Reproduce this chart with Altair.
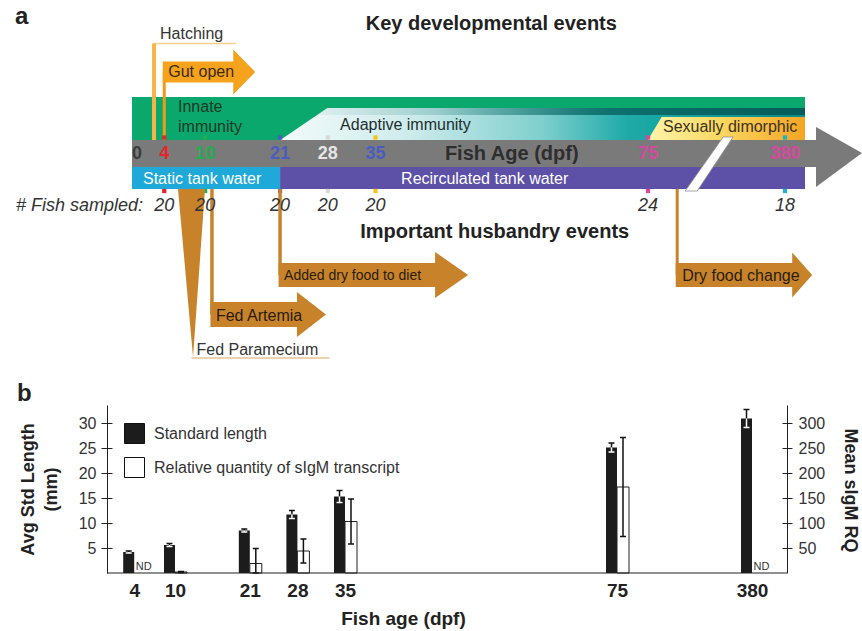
import altair as alt
import pandas as pd

FONT = "Liberation Sans"

# ---------------- panel a: timeline of development and husbandry ----------------
tick_ages = [0, 4, 10, 21, 28, 35, 75, 380]
tick_labels = ["0", "4", "10", "21", "28", "35", "75", "380"]
tick_colors = ["#3c3c3c", "#e3262c", "#22ad4e", "#4b5cc0", "#e6e6e6", "#4b5cc0", "#d6489b", "#d6489b"]

sample_ages = [4, 10, 21, 28, 35, 75, 380]
fish_sampled = ["20", "20", "20", "20", "20", "24", "18"]
sample_colors = ["#e3262c", "#22ad4e", "#4b5cc0", "#d8d8d8", "#f3c419", "#d6489b", "#1db2c6"]

hatching_age = 2.5
gut_open_age = 4
adaptive_start_age = 21
dimorphic_start_age = 75
last_age = 380
axis_break_age = 200

water_phases = ["Static tank water", "Recirculated tank water"]
water_from = [0, 21]
water_to = [21, 380]
water_colors = ["#1fa9d9", "#5c50a7"]

husbandry_events = ["Fed  Paramecium", "Fed  Artemia", "Added dry food to diet", "Dry food change"]
husbandry_ages = [8, 11, 21, 140]

# ---------------- panel b: growth and sIgM expression ----------------
ages = [4, 10, 21, 28, 35, 75, 380]
std_length = [4.2, 5.6, 8.5, 11.7, 15.3, 25.1, 30.9]
std_length_sd = [0.2, 0.3, 0.3, 0.8, 1.2, 0.9, 1.8]
sigm_rq = [None, 2, 19, 44, 103, 172, None]
sigm_rq_sd = [None, 1, 30, 24, 45, 99, None]
nd_ages = [4, 380]
SERIES_LEN = "Standard length"
SERIES_RQ = "Relative quantity of sIgM transcript"

# ---------------- layout (pixel rows of the schematic) ----------------
row = dict(
    dev_title=24, hatch_label=34, hatch_flag=43.5, gut_open=72,
    band_top=97, adaptive_top=108, stripe_bottom=115, dimorphic_top=117,
    axis_top=140, axis_mid=154, axis_bottom=167, water_mid=179, water_bottom=189,
    marker_top=137.5, marker_bottom=191, sampled=205.5, hus_title=232,
    dry_food=275, artemia=314.5, paramecium=350, paramecium_line=358,
)

XA = alt.Scale(domain=[0, 75, 380], range=[137, 648, 785], nice=False, zero=False)
YA = alt.Scale(domain=[0, 631], range=[0, 631], nice=False, zero=False)
XB = alt.Scale(domain=[0, 75, 380], range=[107, 617, 752], nice=False, zero=False)
YL = alt.Scale(domain=[0, 33.6], range=[573, 405], nice=False, zero=False)
YR = alt.Scale(domain=[0, 336], range=[573, 405], nice=False, zero=False)


def ax(field, scale=XA, axis=None):
    return alt.X(field, type="quantitative", scale=scale, axis=axis)


def ay(field, scale=YA, axis=None):
    return alt.Y(field, type="quantitative", scale=scale, axis=axis)


def rect(a0, a1, y0, y1, fill, pad_left=0, pad_right=0, **mark):
    df = pd.DataFrame({"a0": [a0], "a1": [a1], "y0": [y0], "y1": [y1]})
    return alt.Chart(df).mark_rect(fill=fill, xOffset=-pad_left, x2Offset=pad_right, **mark).encode(
        x=ax("a0"), x2=alt.X2("a1"), y=ay("y0"), y2=alt.Y2("y1"))


def glyph(age, y, path, color, **mark):
    df = pd.DataFrame({"a": [age], "y": [y]})
    style = dict(filled=True, color=color, opacity=1, strokeWidth=0)
    style.update(mark)
    return alt.Chart(df).mark_point(shape=path, size=4, **style).encode(x=ax("a"), y=ay("y"))


def vrule(age, y0, y1, color, width):
    df = pd.DataFrame({"a": [age], "y0": [y0], "y1": [y1]})
    return alt.Chart(df).mark_rule(color=color, strokeWidth=width).encode(
        x=ax("a"), y=ay("y0"), y2=alt.Y2("y1"))


def hrule(age, y, length, color, width):
    df = pd.DataFrame({"a": [age], "y": [y]})
    return alt.Chart(df).mark_rule(color=color, strokeWidth=width, x2Offset=length).encode(
        x=ax("a"), x2=alt.X2("a"), y=ay("y"))


def note(age, y, text, dx=0, align="left", size=16, color="#2a2a2a", **style):
    df = pd.DataFrame({"a": [age], "y": [y], "t": [text]})
    return alt.Chart(df).mark_text(align=align, baseline="middle", dx=dx, fontSize=size,
                                   color=color, **style).encode(x=ax("a"), y=ay("y"), text="t:N")


def arrow_path(body, head, half_body, half_head):
    return (f"M -1.5 {-half_body} L {body} {-half_body} L {body} {-half_head} L {head} 0 "
            f"L {body} {half_head} L {body} {half_body} L -1.5 {half_body} Z")


def grad(stops):
    return alt.LinearGradient(gradient="linear", x1=0, x2=1, y1=0, y2=0,
                              stops=[alt.GradientStop(offset=o, color=c) for o, c in stops])


GREEN = "#0aa86c"
TEAL = "#17a7a4"
BROWN = "#c8832a"
layers = []

# immunity bands
layers.append(rect(0, last_age, row["band_top"], row["axis_top"], GREEN, pad_left=5, pad_right=20))
layers.append(rect(adaptive_start_age, last_age, row["adaptive_top"], row["axis_top"],
                   grad([(0, "#f3fbfb"), (0.25, "#cdebeb"), (0.5, "#7fcfcd"), (0.66, "#1faaa8"), (1, "#0a8c89")]),
                   pad_right=20))
layers.append(rect(adaptive_start_age, last_age, row["adaptive_top"], row["stripe_bottom"],
                   grad([(0, "rgba(8,104,102,0)"), (0.3, "rgba(8,104,102,0.2)"), (0.6, "rgba(8,100,98,0.8)"),
                         (1, "#065c5a")]), pad_right=20))
layers.append(glyph(adaptive_start_age, row["adaptive_top"], "M -0.5 -0.5 L 48 -0.5 L -0.5 32.5 Z", GREEN))
layers.append(rect(dimorphic_start_age, last_age, row["dimorphic_top"], row["axis_top"],
                   grad([(0, "#fff4aa"), (0.45, "#fbd862"), (1, "#f4a424")]), pad_right=20))
layers.append(glyph(dimorphic_start_age, row["dimorphic_top"], "M -0.5 -0.5 L 14 -0.5 L -0.5 23.5 Z", TEAL))
layers.append(note(0, 107, "Innate", dx=41, color="#173a27"))
layers.append(note(0, 127, "immunity", dx=41, color="#173a27"))
layers.append(note(adaptive_start_age, 125, "Adaptive immunity", dx=60, color="#1e2e2e"))
layers.append(note(dimorphic_start_age, 127, "Sexually dimorphic", dx=15, color="#3a3320"))

# hatching and gut opening
layers.append(hrule(hatching_age, row["hatch_flag"], 82, "#fbd08a", 1.5))
layers.append(vrule(hatching_age, row["hatch_flag"], row["axis_top"], "#f8b448", 4))
layers.append(note(hatching_age, row["hatch_label"], "Hatching", dx=6, color="#333333"))
layers.append(vrule(gut_open_age, row["gut_open"], row["axis_top"], "#f29a16", 3))
layers.append(glyph(gut_open_age, row["gut_open"], arrow_path(69, 91, 10.5, 22.5), "#f5a21d"))
layers.append(note(gut_open_age, row["gut_open"], "Gut open", dx=4, color="#3a2a10"))

# fish-age axis arrow
layers.append(rect(0, last_age, row["axis_top"], row["axis_bottom"], "#7a7a7a", pad_left=5, pad_right=32))
layers.append(glyph(last_age, row["axis_mid"], "M 31 -27 L 77 -1 L 31 33 Z", "#7a7a7a"))

# tank water phases
water_pads = [(5, 0), (0, 20)]
for i in range(len(water_phases)):
    layers.append(rect(water_from[i], water_to[i], row["axis_bottom"], row["water_bottom"], water_colors[i],
                       pad_left=water_pads[i][0], pad_right=water_pads[i][1]))
layers.append(note(water_from[0], row["water_mid"], water_phases[0], dx=6, color="#ffffff"))
layers.append(note(water_from[1], row["water_mid"], water_phases[1], dx=121, color="#ffffff"))

# axis break between 75 and 380 dpf
layers.append(glyph(axis_break_age, 164, "M 19 -27 L 29 -27 L -7 27 L -19 27 Z", "#ffffff",
                    stroke="#8c8c8c", strokeWidth=0.8))

# tick labels and sampling markers
ticks = pd.DataFrame({"a": tick_ages, "t": tick_labels, "c": tick_colors, "y": row["axis_mid"]})
layers.append(alt.Chart(ticks).mark_text(fontSize=18, fontWeight="bold", baseline="middle").encode(
    x=ax("a"), y=ay("y"), text="t:N", color=alt.Color("c:N", scale=None)))
layers.append(note(55, row["axis_mid"], "Fish Age (dpf)", align="center", size=20, color="#2e2e2e",
                   fontWeight="bold"))
samples = pd.DataFrame({"a": sample_ages, "n": fish_sampled, "c": sample_colors,
                        "top": row["marker_top"], "bottom": row["marker_bottom"], "y": row["sampled"]})
for yc in ["top", "bottom"]:
    layers.append(alt.Chart(samples).mark_square(size=18, opacity=1).encode(
        x=ax("a"), y=ay(yc), color=alt.Color("c:N", scale=None)))

# section titles
layers.append(note(52, row["dev_title"], "Key developmental events", align="center", size=20,
                   color="#222222", fontWeight="bold"))
layers.append(note(52.5, row["hus_title"], "Important husbandry events", align="center", size=20,
                   color="#222222", fontWeight="bold"))

# husbandry events
p_age, a_age, d_age, c_age = husbandry_ages
layers.append(glyph(p_age, row["water_bottom"], "M -13.5 0 L 13.5 0 L 1.5 168 Z", BROWN))
layers.append(hrule(p_age, row["paramecium_line"], 138, "#dba566", 1.2))
layers.append(note(p_age, row["paramecium"], husbandry_events[0], dx=5, color="#333333"))
layers.append(vrule(a_age, row["water_bottom"], row["artemia"], BROWN, 3.5))
layers.append(glyph(a_age, row["artemia"], arrow_path(85, 114, 12.5, 22.5), BROWN))
layers.append(note(a_age, 316, husbandry_events[1], dx=4, color="#2a1c0c"))
layers.append(vrule(d_age, row["water_bottom"], row["dry_food"], BROWN, 3.5))
layers.append(glyph(d_age, row["dry_food"], arrow_path(155, 188, 12, 23), BROWN))
layers.append(note(d_age, 276, husbandry_events[2], dx=4, size=14, color="#2a1c0c"))
layers.append(vrule(c_age, row["water_bottom"], row["dry_food"], BROWN, 3))
layers.append(glyph(c_age, row["dry_food"], arrow_path(115, 135, 12, 22.5), BROWN))
layers.append(note(c_age, 276, husbandry_events[3], dx=5, color="#2a1c0c"))

# number of fish sampled at each age
layers.append(alt.Chart(samples).mark_text(fontSize=18, fontStyle="italic", color="#333333",
                                           baseline="middle").encode(x=ax("a"), y=ay("y"), text="n:N"))
layers.append(note(0, row["sampled"], "# Fish sampled:", dx=6, align="right", size=18, color="#333333",
                   fontStyle="italic"))

# ---------------- panel b ----------------
len_df = pd.DataFrame({"age": ages, "len": std_length, "sd": std_length_sd})
len_df["series"] = SERIES_LEN
len_df["hi"] = len_df["len"] + len_df["sd"]
len_df["lo"] = len_df["len"] - len_df["sd"]
rq_df = pd.DataFrame({"age": ages, "rq": sigm_rq, "sd": sigm_rq_sd}).dropna()
rq_df["series"] = SERIES_RQ
rq_df["hi"] = rq_df["rq"] + rq_df["sd"]
rq_df["lo"] = (rq_df["rq"] - rq_df["sd"]).clip(lower=0)
nd_df = pd.DataFrame({"age": nd_ages, "zero": 0, "t": "ND"})

fill_scale = alt.Scale(domain=[SERIES_LEN, SERIES_RQ], range=["#1c1c1c", "#ffffff"])
legend = alt.Legend(orient="none", legendX=124, legendY=423, title=None, symbolType="square",
                    symbolSize=400, symbolStrokeColor="#111111", symbolStrokeWidth=1, labelFontSize=16,
                    labelColor="#333333", labelOffset=9, rowPadding=9, padding=0, labelLimit=400)

x_axis = alt.Axis(orient="bottom", offset=-58, values=ages, format="d", ticks=False, tickSize=0,
                  domain=False, grid=False, labelFontSize=19, labelFontWeight="bold", labelColor="#222222",
                  labelPadding=8, labelFlush=False, labelOverlap=False, title="Fish age (dpf)",
                  titleFontSize=19, titleFontWeight="bold", titleColor="#222222", titleX=403, titleY=45,
                  titleBaseline="middle", titleAlign="center")
left_axis = alt.Axis(orient="left", offset=-107, values=[5, 10, 15, 20, 25, 30], tickSize=6,
                     tickColor="#222222", domainColor="#222222", grid=False, labelFontSize=16,
                     labelColor="#333333", labelPadding=5, title=["Avg Std Length", "(mm)"],
                     titleFontSize=18, titleFontWeight="bold", titleColor="#222222", titleX=-78.5,
                     titleY=489, titleLineHeight=23, titleBaseline="middle", titleAlign="center")
left_inner = alt.Axis(orient="right", offset=-755, values=[5, 10, 15, 20, 25, 30], tickSize=5,
                      tickColor="#222222", domain=False, labels=False, grid=False, title=None)
right_axis = alt.Axis(orient="right", offset=-75, values=[50, 100, 150, 200, 250, 300], tickSize=5,
                      tickColor="#222222", domainColor="#222222", grid=False, labelFontSize=16,
                      labelColor="#333333", labelPadding=6, title="Mean sIgM RQ", titleAngle=90,
                      titleFontSize=18, titleFontWeight="bold", titleColor="#222222", titleX=62,
                      titleY=490, titleBaseline="middle", titleAlign="center")
right_inner = alt.Axis(orient="left", offset=-787, values=[50, 100, 150, 200, 250, 300], tickSize=5,
                       tickColor="#222222", domain=False, labels=False, grid=False, title=None)

layers.append(alt.Chart(len_df).mark_rect(xOffset=-11, x2Offset=0).encode(
    x=ax("age", XB, x_axis), x2=alt.X2("age"), y=ay("len", YL, left_axis), y2=alt.datum(0),
    fill=alt.Fill("series:N", scale=fill_scale, legend=legend)))
layers.append(alt.Chart(len_df).mark_point(opacity=0).encode(
    x=ax("age", XB), y=ay("len", YL, left_inner)))
layers.append(alt.Chart(rq_df).mark_rect(xOffset=0, x2Offset=12, stroke="#222222", strokeWidth=1).encode(
    x=ax("age", XB), x2=alt.X2("age"), y=ay("rq", YR, right_axis), y2=alt.datum(0),
    fill=alt.Fill("series:N", scale=fill_scale, legend=legend)))
layers.append(alt.Chart(rq_df).mark_point(opacity=0).encode(
    x=ax("age", XB), y=ay("rq", YR, right_inner)))

# error bars: black above the length bars, white inside them
layers.append(alt.Chart(len_df).mark_rule(color="#111111", strokeWidth=1.5, xOffset=-5.5).encode(
    x=ax("age", XB), y=ay("len", YL), y2=alt.Y2("hi")))
layers.append(alt.Chart(len_df).mark_rule(color="#111111", strokeWidth=1.5, xOffset=-8.5, x2Offset=-2.5).encode(
    x=ax("age", XB), x2=alt.X2("age"), y=ay("hi", YL)))
layers.append(alt.Chart(len_df).mark_rule(color="#ffffff", strokeWidth=1.5, xOffset=-5.5).encode(
    x=ax("age", XB), y=ay("lo", YL), y2=alt.Y2("len")))
layers.append(alt.Chart(len_df).mark_rule(color="#ffffff", strokeWidth=1.5, xOffset=-8.5, x2Offset=-2.5).encode(
    x=ax("age", XB), x2=alt.X2("age"), y=ay("lo", YL)))
layers.append(alt.Chart(rq_df).mark_rule(color="#111111", strokeWidth=1.5, xOffset=6).encode(
    x=ax("age", XB), y=ay("lo", YR), y2=alt.Y2("hi")))
for end in ["lo", "hi"]:
    layers.append(alt.Chart(rq_df).mark_rule(color="#111111", strokeWidth=1.5, xOffset=3, x2Offset=9).encode(
        x=ax("age", XB), x2=alt.X2("age"), y=ay(end, YR)))

# baseline of panel b
layers.append(alt.Chart(pd.DataFrame({"a0": [0], "a1": [last_age], "zero": [0]})).mark_rule(
    color="#222222", strokeWidth=1, x2Offset=35).encode(
    x=ax("a0", XB), x2=alt.X2("a1"), y=ay("zero", YL)))

layers.append(alt.Chart(nd_df).mark_text(align="left", baseline="bottom", dx=1.5, dy=-1, fontSize=11,
                                         color="#333333").encode(
    x=ax("age", XB), y=ay("zero", YR), text="t:N"))

# panel letters
for letter, px, py in [("a", 15, 17), ("b", 17, 394)]:
    layers.append(alt.Chart(pd.DataFrame({"t": [letter]})).mark_text(
        align="left", baseline="middle", fontSize=24, fontWeight="bold", color="#222222").encode(
        x=alt.value(px), y=alt.value(py), text="t:N"))

chart = (
    alt.layer(*layers)
    .resolve_scale(x="independent", y="independent")
    .properties(width=862, height=631, autosize=alt.AutoSizeParams(type="none"), padding=0)
    .configure(font=FONT, background="#ffffff")
    .configure_view(stroke=None)
)

chart.save("out.html", embed_options={"renderer": "svg", "actions": False})
